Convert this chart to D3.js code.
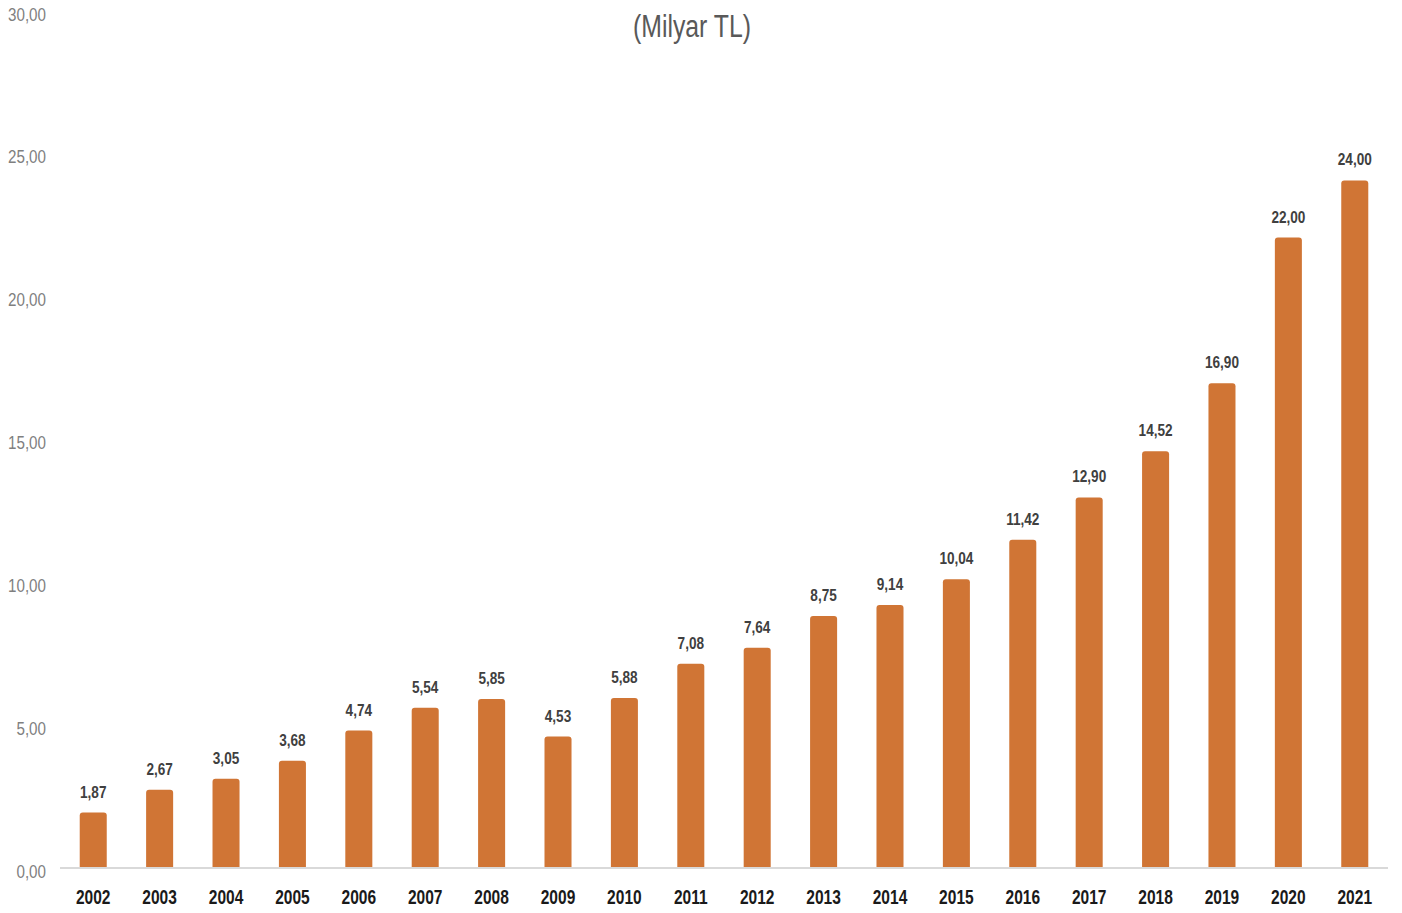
<!DOCTYPE html>
<html><head><meta charset="utf-8">
<script src="https://cdn.jsdelivr.net/npm/d3@7"></script>
<style>
html,body{margin:0;padding:0;background:#fff;}
svg{display:block;}
</style></head>
<body>
<svg id="chart" width="1402" height="913"></svg>
<script>
const years = ["2002","2003","2004","2005","2006","2007","2008","2009","2010","2011","2012","2013","2014","2015","2016","2017","2018","2019","2020","2021"];
const values = [1.87,2.67,3.05,3.68,4.74,5.54,5.85,4.53,5.88,7.08,7.64,8.75,9.14,10.04,11.42,12.90,14.52,16.90,22.00,24.00];
const yTicks = [0,5,10,15,20,25,30];
const title = "(Milyar TL)";

const svg = d3.select("#chart");
const font = "'Liberation Sans Narrow','Arial Narrow','Liberation Sans',Arial,sans-serif";
const fmt = v => d3.format(".2f")(v).replace(".", ",");

const x = d3.scaleBand().domain(years).range([60, 1388]).paddingInner(0.593).paddingOuter(0.297);
const y = d3.scaleLinear().domain([0, 30]).range([866, 9]);

// y tick labels
svg.append("g").selectAll("text").data(yTicks).join("text")
  .attr("transform", d => `translate(46,${y(d) + 5}) scale(0.8,1)`)
  .attr("dy", "0.35em")
  .attr("text-anchor", "end")
  .attr("font-family", font).attr("font-size", 19).attr("fill", "#7f7f7f")
  .text(fmt);

// bars with rounded tops
const r = 3;
svg.append("g").selectAll("path").data(values).join("path")
  .attr("fill", "#d07535")
  .attr("d", (d, i) => {
    const x0 = x(years[i]), w = x.bandwidth(), y0 = y(d), yb = y(0) + 1;
    return `M${x0},${yb}V${y0 + r}Q${x0},${y0} ${x0 + r},${y0}H${x0 + w - r}Q${x0 + w},${y0} ${x0 + w},${y0 + r}V${yb}Z`;
  });

// baseline
svg.append("line").attr("x1", 60).attr("x2", 1388).attr("y1", 868).attr("y2", 868)
  .attr("stroke", "#d9d9d9").attr("stroke-width", 2);

// value labels
svg.append("g").selectAll("text").data(values).join("text")
  .attr("transform", (d, i) => `translate(${x(years[i]) + x.bandwidth() / 2},${y(d) - 15}) scale(0.8,1)`)
  .attr("text-anchor", "middle")
  .attr("font-family", font).attr("font-size", 17).attr("font-weight", "bold").attr("fill", "#404040")
  .text(fmt);

// x axis labels
svg.append("g").selectAll("text").data(years).join("text")
  .attr("transform", d => `translate(${x(d) + x.bandwidth() / 2},897) scale(0.74,1)`)
  .attr("dy", "0.35em")
  .attr("text-anchor", "middle")
  .attr("font-family", font).attr("font-size", 21).attr("font-weight", "bold").attr("fill", "#1a1a1a")
  .text(d => d);

// title
svg.append("text")
  .attr("transform", `translate(692,26) scale(0.8,1)`)
  .attr("dy", "0.35em")
  .attr("text-anchor", "middle")
  .attr("font-family", font).attr("font-size", 31).attr("fill", "#595959")
  .text(title);
</script>
</body></html>
